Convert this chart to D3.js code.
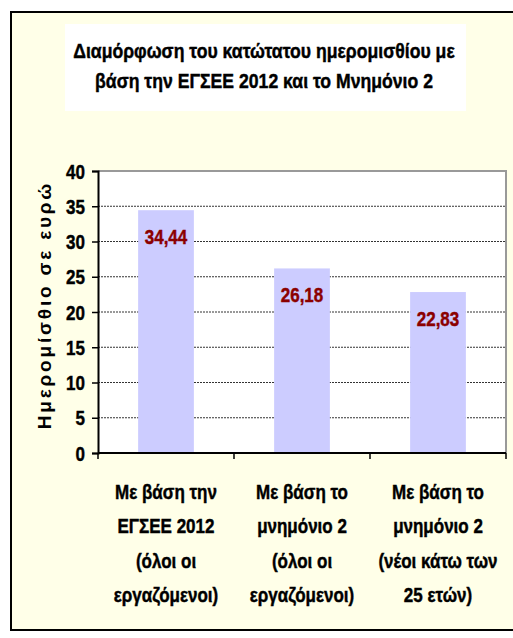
<!DOCTYPE html>
<html><head><meta charset="utf-8">
<script src="https://cdn.jsdelivr.net/npm/d3@7"></script>
<style>body{margin:0;background:#fff}svg{display:block}</style>
</head><body>
<svg id="c" width="513" height="638"></svg>
<script>
const categories = [
  ["Με βάση την","ΕΓΣΕΕ 2012","(όλοι οι","εργαζόμενοι)"],
  ["Με βάση το","μνημόνιο 2","(όλοι οι","εργαζόμενοι)"],
  ["Με βάση το","μνημόνιο 2","(νέοι κάτω των","25 ετών)"]
];
const values = [34.44, 26.18, 22.83];
const valueLabels = ["34,44","26,18","22,83"];
const yTicks = [0,5,10,15,20,25,30,35,40];
const titleLines = ["Διαμόρφωση του κατώτατου ημερομισθίου με","βάση την ΕΓΣΕΕ 2012 και το Μνημόνιο 2"];
const yTitle = "Ημερομίσθιο σε ευρώ";

const FONT = "'Liberation Sans',Arial,sans-serif";
const SX = 0.81;
const svg = d3.select("#c");
function ntext(sel, x, y, s, size, anchor, fill, sx){
  const g = sel.append("g").attr("transform",`translate(${x},${y}) scale(${sx||SX},1)`);
  g.append("text").attr("text-anchor",anchor).attr("font-family",FONT).attr("font-weight","bold")
    .attr("font-size",size).attr("fill",fill||"#000")
    .attr("stroke",fill||"#000").attr("stroke-width",0.45).text(s);
  return g;
}
svg.append("rect").attr("x",11).attr("y",12).attr("width",510).attr("height",618)
  .attr("fill","#ffffe8").attr("stroke","#000").attr("stroke-width",2);
svg.append("rect").attr("x",65).attr("y",24).attr("width",401).attr("height",87).attr("fill","#fff");
const tg = svg.append("g");
titleLines.forEach((t,i)=>ntext(tg,264,58+i*30,t,21,"middle","#000",0.84));

const L=98,R=506,T=171,B=453;
const x = d3.scaleBand().domain(d3.range(3)).range([L,R]).paddingInner(0.59).paddingOuter(0.295);
const y = d3.scaleLinear().domain([0,40]).range([B,T]);
svg.append("rect").attr("x",L).attr("y",T).attr("width",R-L).attr("height",B-T).attr("fill","#fff");
svg.append("g").selectAll("line").data(yTicks.filter(t=>t>0&&t<40)).join("line")
  .attr("x1",L).attr("x2",R).attr("y1",d=>y(d)).attr("y2",d=>y(d))
  .attr("stroke","#333").attr("stroke-width",1).attr("stroke-dasharray","2,1");
svg.append("path").attr("d",`M${L},${T}H${R}V${B}`).attr("fill","none").attr("stroke","#999").attr("stroke-width",2);
svg.append("g").selectAll("rect").data(values).join("rect")
  .attr("x",(d,i)=>x(i)).attr("width",x.bandwidth()).attr("y",d=>y(d)).attr("height",d=>B-y(d))
  .attr("fill","#ccccff");
const vg = svg.append("g");
values.forEach((v,i)=>ntext(vg, x(i)+x.bandwidth()/2, y(v)+34, valueLabels[i], 21, "middle", "#8b0000"));
const ya = svg.append("g").attr("transform",`translate(${L},0)`).call(d3.axisLeft(y).tickValues(yTicks).tickSize(6).tickFormat(""));
ya.select(".domain").attr("stroke","#000").attr("stroke-width",2);
ya.selectAll(".tick line").attr("stroke","#000").attr("stroke-width",1.5);
const yl = svg.append("g");
yTicks.forEach(t=>ntext(yl, 85, y(t)+7.5, String(t), 21, "end"));
const bounds=[L,L+(R-L)/3,L+2*(R-L)/3,R];
svg.append("line").attr("x1",L).attr("x2",R).attr("y1",B).attr("y2",B).attr("stroke","#000").attr("stroke-width",2);
svg.append("g").selectAll("line").data(bounds).join("line")
  .attr("x1",d=>d).attr("x2",d=>d).attr("y1",B).attr("y2",B+6).attr("stroke","#000").attr("stroke-width",1.5);
const cg = svg.append("g");
categories.forEach((lines,i)=>lines.forEach((s,j)=>ntext(cg, x(i)+x.bandwidth()/2, 499+j*34.3, s, 21, "middle")));
svg.append("text").attr("transform",`translate(51,305) rotate(-90)`).attr("text-anchor","middle")
  .attr("font-family",FONT).attr("font-weight","bold").attr("font-size",19)
  .attr("letter-spacing",2.8).text(yTitle);
</script>
</body></html>
